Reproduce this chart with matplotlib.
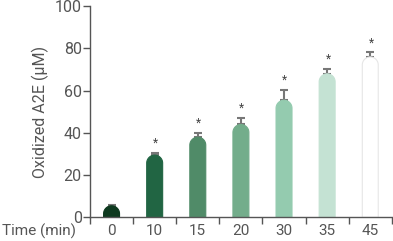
import numpy as np
import matplotlib
matplotlib.use("Agg")
import matplotlib.pyplot as plt
from matplotlib.path import Path
from matplotlib.patches import PathPatch

plt.rcParams['font.family'] = ['Roboto', 'DejaVu Sans']

# data
times = ['0', '10', '15', '20', '30', '35', '45']
means = [5.5, 29.5, 38, 44, 55.5, 68, 76]
errs = [0.5, 1, 2, 3, 5, 2.2, 2.2]
colors = ['#0e3a1f', '#216543', '#508b68', '#73ad8b', '#94cbaf', '#c4e2d3', '#ffffff']
edges = ['#0e3a1f', '#216543', '#508b68', '#73ad8b', '#94cbaf', '#c4e2d3', '#e6e6e6']

txt = '#555555'
fig = plt.figure(figsize=(3.93, 2.41), dpi=100)
ax = fig.add_axes([0.229, 0.098, 0.768, 0.876])

x = np.arange(len(times))
w = 0.37
px_per_unit = 0.876 * 241 / 100.0
r_y = (w * 0.768 * 393 / 7.0) / 2 / px_per_unit  # cap radius in y units


def rounded_bar(xc, h, fc, ec):
    r = min(r_y, h)
    t = np.linspace(np.pi, 0, 30)
    xs = [xc - w / 2, xc - w / 2] + list(xc + w / 2 * np.cos(t)) + [xc + w / 2, xc - w / 2]
    ys = [0, h - r] + list(h - r + r * np.sin(t)) + [0, 0]
    p = Path(list(zip(xs, ys)), closed=True)
    ax.add_patch(PathPatch(p, facecolor=fc, edgecolor=ec, lw=0.8, zorder=2))


for i in range(len(times)):
    rounded_bar(x[i], means[i], colors[i], edges[i])

ax.errorbar(x, means, yerr=[np.zeros(len(errs)), errs], fmt='none', ecolor='#777777',
            elinewidth=1.5, capsize=2.7, capthick=1.5, zorder=1)
# significance stars (not on the 0 min bar)
for i in range(1, len(times)):
    ax.text(x[i] + 0.02, means[i] + errs[i] + 1.5, '*', ha='center', va='bottom',
            fontsize=8.5, color='#444444')

ax.set_xlim(-0.5, 6.5)
ax.set_ylim(0, 100)
ax.set_yticks([0, 20, 40, 60, 80, 100])
ax.set_xticks(np.arange(-0.5, 7, 1))
ax.set_xticklabels([])
ax.set_xticks(x, minor=True)
ax.set_xticklabels(times, minor=True)
ax.tick_params(axis='x', which='minor', length=0, labelsize=11, labelcolor=txt, pad=5)
ax.tick_params(axis='x', which='major', length=5, width=1, color='#555555')
ax.tick_params(axis='y', length=5, width=1, color='#555555', labelsize=11.5, labelcolor=txt, pad=1)
for s in ['top', 'right']:
    ax.spines[s].set_visible(False)
for s in ['left', 'bottom']:
    ax.spines[s].set_color('#555555')
    ax.spines[s].set_linewidth(1)

ax.set_ylabel('Oxidized A2E (µM)', fontsize=11.5, color=txt, labelpad=4)
fig.text(0.005, 0.042, 'Time (min)', fontsize=11, color=txt, va='center', ha='left')

fig.savefig('out.png', dpi=100)
